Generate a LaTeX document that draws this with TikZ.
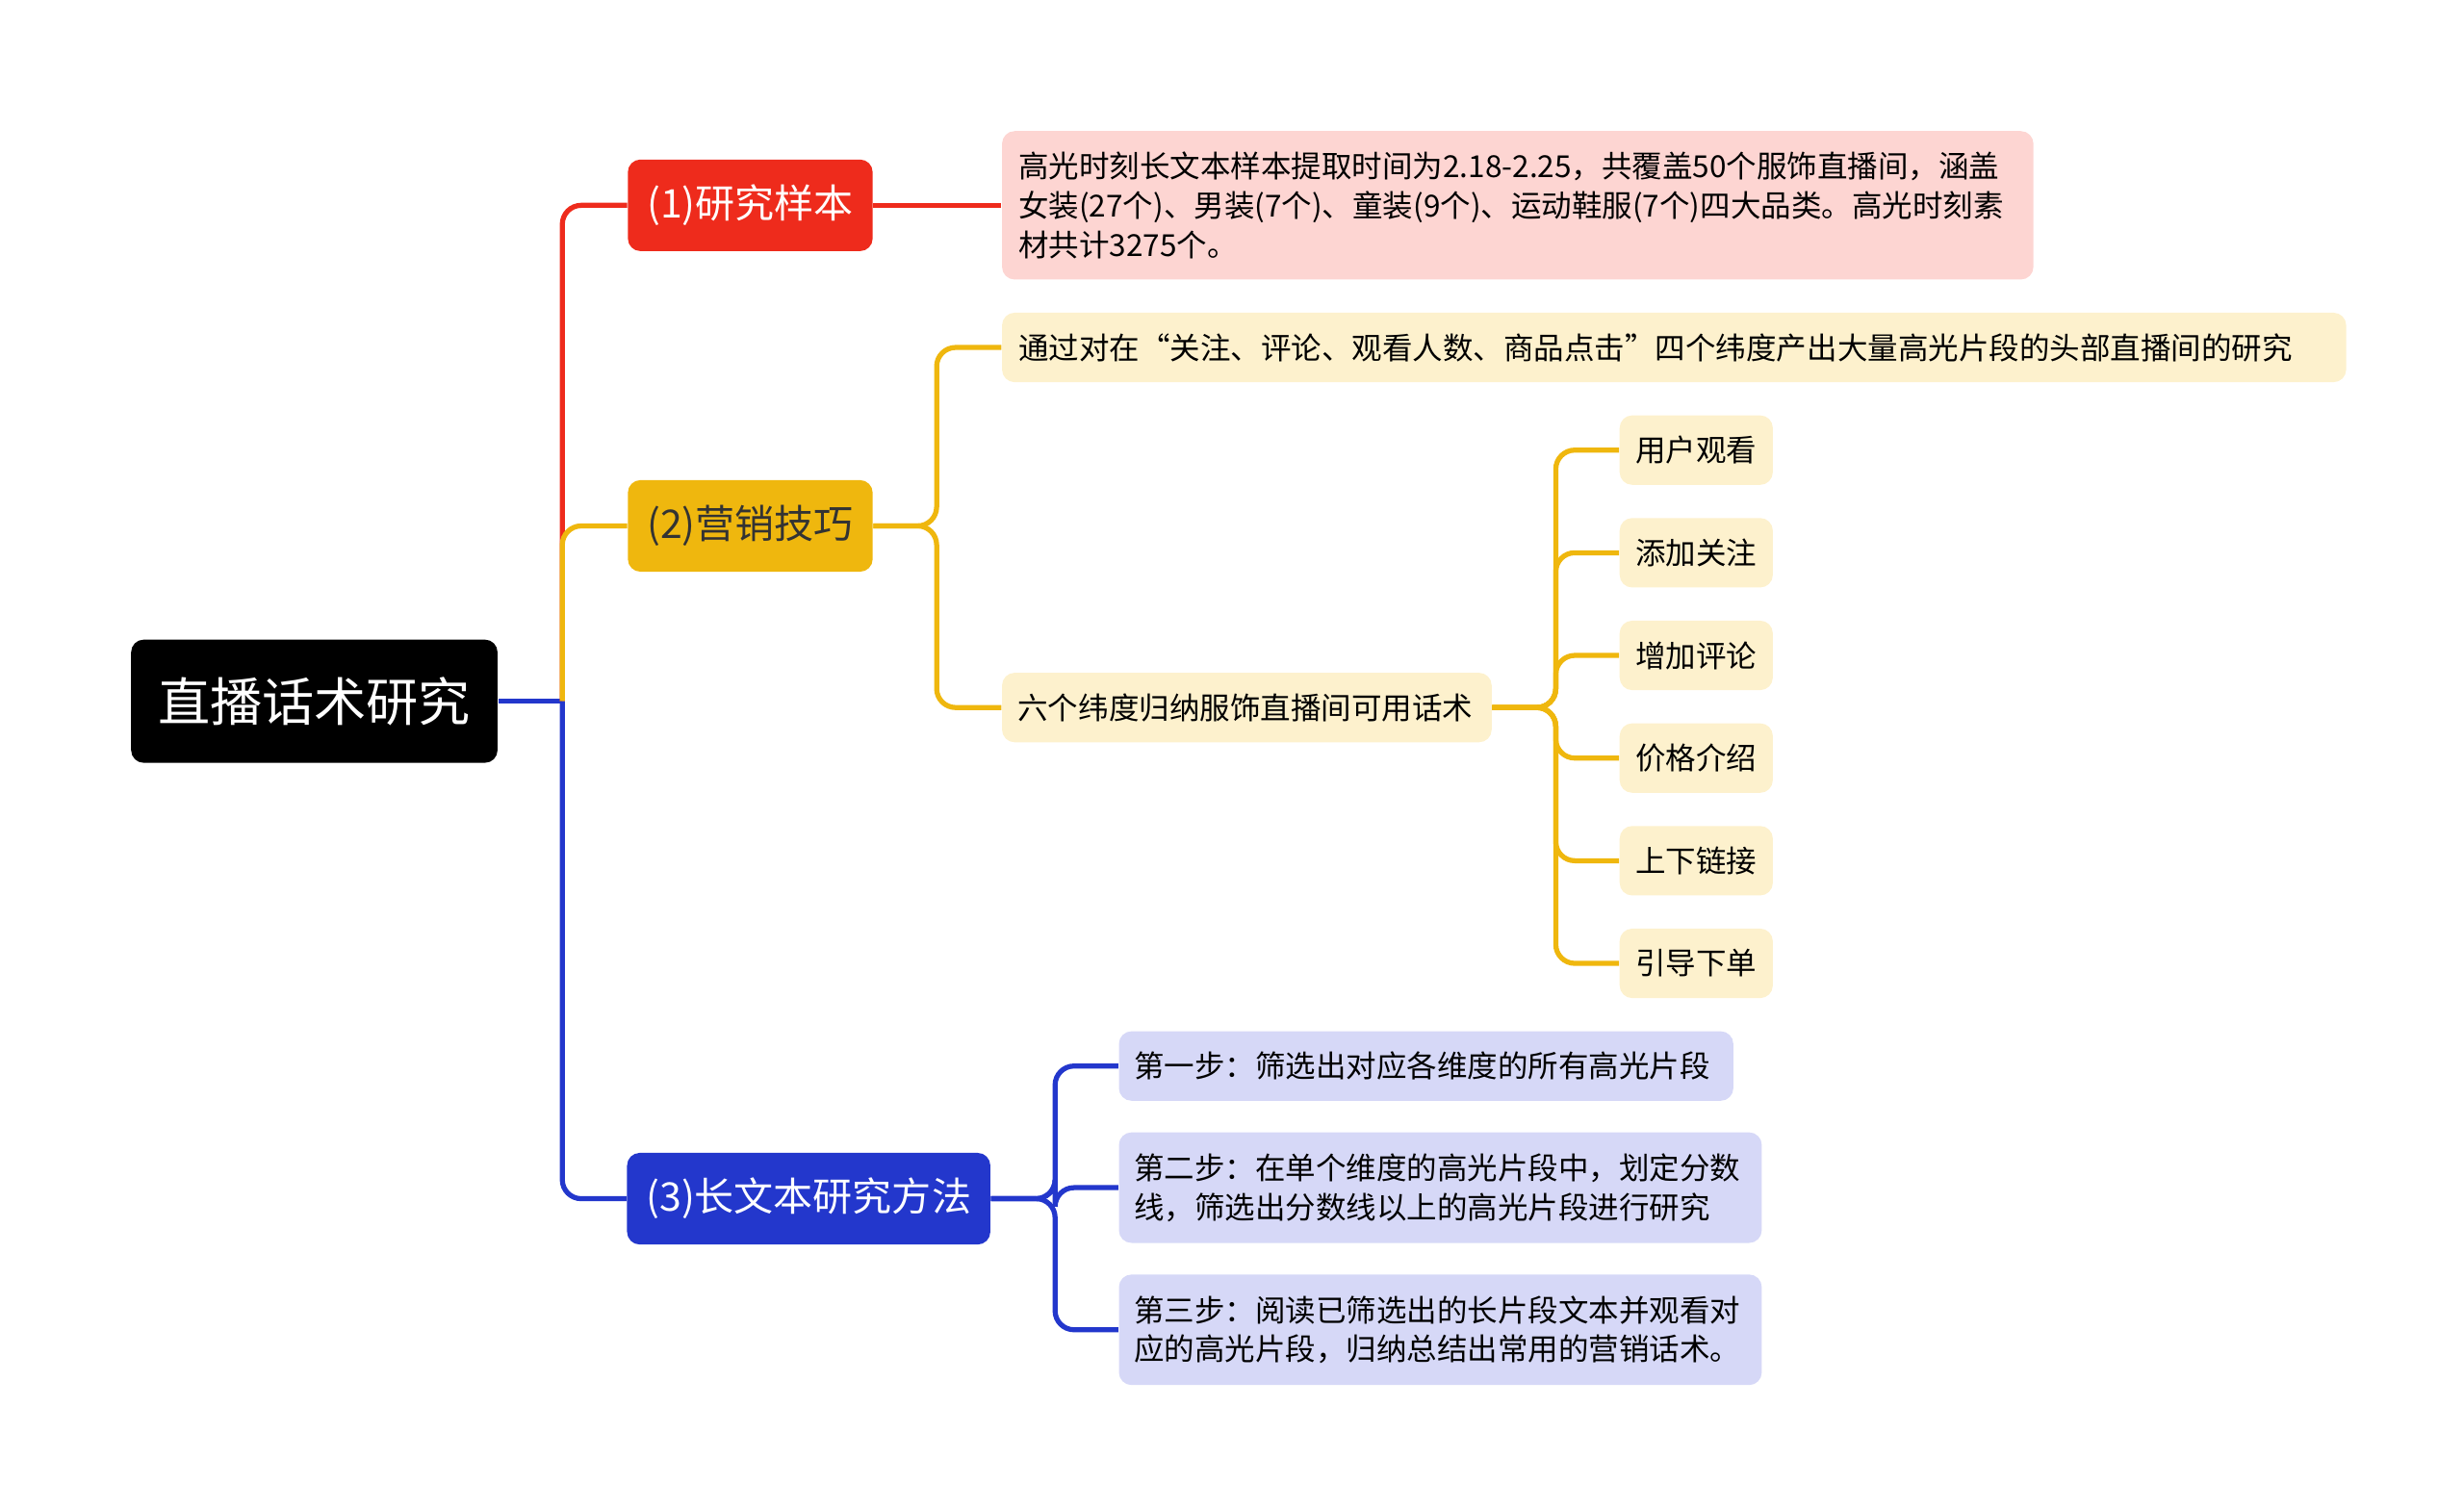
\documentclass[tikz,border=0pt]{standalone}
\usepackage{fontspec}
\setmainfont{Noto Sans CJK SC}
\definecolor{cred}{HTML}{EE2B1C}
\definecolor{cyel}{HTML}{EFB70E}
\definecolor{cblue}{HTML}{2337CC}
\definecolor{lred}{HTML}{FDD5D2}
\definecolor{lyel}{HTML}{FDF1CD}
\definecolor{lblue}{HTML}{D6D8F7}
\tikzset{
  root/.style={fill=black,text=white,rounded corners=4pt,font=\fontsize{16.5}{20}\selectfont,minimum width=116pt,minimum height=39pt,inner sep=0pt},
  branch/.style={rounded corners=4pt,font=\fontsize{12.5}{15}\selectfont,minimum height=29pt,inner sep=0pt},
  leaf/.style={rounded corners=4pt,font=\fontsize{9.6}{12.4}\selectfont,align=left,inner sep=0pt,minimum height=22pt,anchor=west},
  link/.style={line width=1.6pt,rounded corners=6pt}
}
\begin{document}
\begin{tikzpicture}[x=0.5pt,y=-0.5pt]
\useasboundingbox (0,0) rectangle (1560,955);
\node[root] (R) at (199,444) {直播话术研究};
\node[branch,fill=cred,text=white,minimum width=77.5pt] (B1) at (475,130) {(1)研究样本};
\node[branch,fill=cyel,text=black!80,minimum width=77.5pt] (B2) at (475,333) {(2)营销技巧};
\node[branch,fill=cblue,text=white,minimum width=115pt] (B3) at (512,759) {(3)长文本研究方法};
% leaves of (1)
\node[leaf,fill=lred,minimum width=326.5pt,minimum height=47pt,text width=316pt] (L1) at (634,130)
  {高光时刻长文本样本提取时间为2.18-2.25，共覆盖50个服饰直播间，涵盖\\女装(27个)、男装(7个)、童装(9个)、运动鞋服(7个)四大品类。高光时刻素\\材共计3275个。};
% leaves of (2)
\node[leaf,fill=lyel,minimum width=425.5pt,text width=415pt] (L2) at (634,220)
  {通过对在“关注、评论、观看人数、商品点击”四个纬度产出大量高光片段的头部直播间的研究};
\node[leaf,fill=lyel,minimum width=155pt,text width=145pt] (L3) at (634,448) {六个纬度归纳服饰直播间可用话术};
\foreach \t/\y [count=\i] in {用户观看/285,添加关注/350,增加评论/415,价格介绍/480,上下链接/545,引导下单/610}
  \node[leaf,fill=lyel,minimum width=48.5pt,text width=38.5pt] (S\i) at (1025,\y) {\t};
% leaves of (3)
\node[leaf,fill=lblue,minimum width=194.5pt,text width=185pt] (M1) at (708,675) {第一步：筛选出对应各维度的所有高光片段};
\node[leaf,fill=lblue,minimum width=203.5pt,minimum height=35pt,text width=194pt] (M2) at (708,752) {第二步：在单个维度的高光片段中，划定分数\\线，筛选出分数线以上的高光片段进行研究};
\node[leaf,fill=lblue,minimum width=203.5pt,minimum height=35pt,text width=194pt] (M3) at (708,842) {第三步：阅读已筛选出的长片段文本并观看对\\应的高光片段，归纳总结出常用的营销话术。};
% connectors
\draw[link,cblue] (R.east) -- (356,444);
\draw[link,cred] (356,444) |- (B1.west);
\draw[link,cyel] (356,444) |- (B2.west);
\draw[link,cblue] (356,444) |- (B3.west);
\draw[link,cred] (B1.east) -- (L1.west);
\foreach \n in {L2,L3} \draw[link,cyel] (B2.east) -- (593,333) |- (\n.west);
\foreach \i in {1,...,6} \draw[link,cyel] (L3.east) -- (985,448) |- (S\i.west);
\foreach \n in {M1,M2,M3} \draw[link,cblue] (B3.east) -- (668,759) |- (\n.west);
\end{tikzpicture}
\end{document}
